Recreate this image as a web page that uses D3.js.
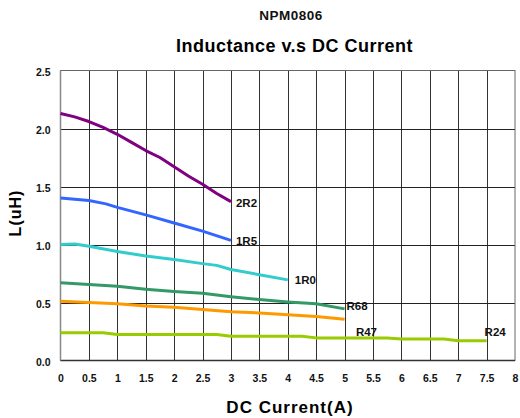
<!DOCTYPE html>
<html>
<head>
<meta charset="utf-8">
<script src="https://cdn.jsdelivr.net/npm/d3@7"></script>
<style>
  html, body { margin: 0; padding: 0; background: #fff; }
  svg { display: block; font-family: "Liberation Sans", Arial, sans-serif; font-weight: bold; }
</style>
</head>
<body>
<svg id="chart" width="520" height="418"></svg>
<script>
// ---- data ----
const seriesNames = ["2R2", "1R5", "1R0", "R68", "R47", "R24"];
const seriesColors = ["#800080", "#3366ff", "#33cccc", "#339966", "#ff9900", "#99cc00"];

const current2R2 = [0, 0.25, 0.5, 0.75, 1, 1.25, 1.5, 1.75, 2, 2.25, 2.5, 2.75, 3];
const induct2R2  = [2.13, 2.10, 2.06, 2.01, 1.95, 1.88, 1.81, 1.75, 1.67, 1.59, 1.52, 1.44, 1.37];

const current1R5 = [0, 0.5, 0.8, 1, 1.5, 2, 2.5, 3];
const induct1R5  = [1.40, 1.38, 1.35, 1.32, 1.255, 1.185, 1.115, 1.035];

const current1R0 = [0, 0.25, 0.5, 1, 1.5, 2, 2.5, 2.75, 3, 3.5, 4];
const induct1R0  = [1.00, 1.005, 0.985, 0.94, 0.90, 0.87, 0.835, 0.82, 0.785, 0.74, 0.695];

const currentR68 = [0, 0.5, 1, 1.5, 2, 2.5, 3, 3.5, 4, 4.5, 5];
const inductR68  = [0.67, 0.655, 0.64, 0.615, 0.595, 0.58, 0.55, 0.525, 0.505, 0.49, 0.445];

const currentR47 = [0, 0.5, 1, 1.5, 2, 2.5, 3, 3.5, 4, 4.5, 5];
const inductR47  = [0.51, 0.50, 0.49, 0.47, 0.46, 0.44, 0.42, 0.41, 0.395, 0.38, 0.355];

const currentR24 = [0, 0.5, 0.75, 1, 2.75, 3, 4.25, 4.5, 5.75, 6, 6.75, 7, 7.5];
const inductR24  = [0.24, 0.24, 0.24, 0.225, 0.225, 0.21, 0.21, 0.195, 0.195, 0.185, 0.185, 0.17, 0.17];

// label anchor points (data units)
const labelCurrent = [3, 3, 4, 5, 5.2, 7.5];
const labelInduct  = [1.37, 1.035, 0.695, 0.445, 0.245, 0.245];

const xTicks = [0, 0.5, 1, 1.5, 2, 2.5, 3, 3.5, 4, 4.5, 5, 5.5, 6, 6.5, 7, 7.5, 8];
const yTicks = [0, 0.5, 1.0, 1.5, 2.0, 2.5];

const titleText = "NPM0806";
const subtitleText = "Inductance v.s DC Current";
const xTitle = "DC Current(A)";
const yTitle = "L(uH)";

// ---- layout ----
const plot = { left: 60.5, right: 515, top: 70.5, bottom: 360.5 };
const svg = d3.select("#chart");

const x = d3.scaleLinear().domain([0, 8]).range([plot.left, plot.right]);
const y = d3.scaleLinear().domain([0, 2.5]).range([plot.bottom, plot.top]);

// grid
const g = svg.append("g");
g.selectAll("line.vg").data(xTicks.slice(1, -1)).enter().append("line")
  .attr("x1", d => Math.round(x(d)) + 0.5).attr("x2", d => Math.round(x(d)) + 0.5)
  .attr("y1", plot.top).attr("y2", plot.bottom)
  .attr("stroke", "#333").attr("stroke-width", 1);
g.selectAll("line.hg").data(yTicks.slice(1, -1)).enter().append("line")
  .attr("x1", plot.left).attr("x2", plot.right)
  .attr("y1", d => Math.round(y(d)) + 0.5).attr("y2", d => Math.round(y(d)) + 0.5)
  .attr("stroke", "#222").attr("stroke-width", 1);

// frame
g.append("rect")
  .attr("x", plot.left).attr("y", plot.top)
  .attr("width", plot.right - plot.left).attr("height", plot.bottom - plot.top)
  .attr("fill", "none").attr("stroke", "#666").attr("stroke-width", 1);
g.append("line").attr("x1", plot.left).attr("x2", plot.right)
  .attr("y1", plot.bottom).attr("y2", plot.bottom).attr("stroke", "#333").attr("stroke-width", 1.5);
g.append("line").attr("x1", plot.left).attr("x2", plot.left)
  .attr("y1", plot.top).attr("y2", plot.bottom).attr("stroke", "#888").attr("stroke-width", 1.5);

// axes (tick labels)
const xAxis = d3.axisBottom(x).tickValues(xTicks).tickSize(0).tickPadding(0)
  .tickFormat(d => String(d));
const xa = svg.append("g").attr("transform", `translate(0,${plot.bottom + 14})`).call(xAxis);
xa.select(".domain").remove();
xa.selectAll("text").attr("font-size", 10.5).attr("font-weight", "bold")
  .attr("font-family", "Liberation Sans, Arial, sans-serif").attr("fill", "#111");

const yAxis = d3.axisLeft(y).tickValues(yTicks).tickSize(0).tickPadding(0)
  .tickFormat(d3.format(".1f"));
const ya = svg.append("g").attr("transform", `translate(${plot.left - 10},2)`).call(yAxis);
ya.select(".domain").remove();
ya.selectAll("text").attr("font-size", 10.5).attr("font-weight", "bold")
  .attr("font-family", "Liberation Sans, Arial, sans-serif").attr("fill", "#111");

// series
const seriesData = [
  [current2R2, induct2R2],
  [current1R5, induct1R5],
  [current1R0, induct1R0],
  [currentR68, inductR68],
  [currentR47, inductR47],
  [currentR24, inductR24]
];
const line = d3.line().x(d => x(d[0])).y(d => y(d[1]));
seriesData.forEach((s, i) => {
  const pts = s[0].map((c, k) => [c, s[1][k]]);
  svg.append("path").datum(pts)
    .attr("d", line)
    .attr("fill", "none")
    .attr("stroke", seriesColors[i])
    .attr("stroke-width", 3)
    .attr("stroke-linejoin", "round");
});

// series labels
const labelDx = [5, 5, 7, 2, 0, -2];
const labelDy = [1, 1, 0, -3, 0, 0];
seriesNames.forEach((n, i) => {
  svg.append("text")
    .attr("x", x(labelCurrent[i]) + labelDx[i])
    .attr("y", y(labelInduct[i]) + labelDy[i])
    .attr("dy", "0.35em")
    .attr("font-size", 11.5)
    .attr("fill", "#111")
    .text(n);
});

// titles
svg.append("text").attr("x", 291).attr("y", 20).attr("text-anchor", "middle")
  .attr("font-size", 13.5).attr("letter-spacing", 0.5).attr("fill", "#111").text(titleText);
svg.append("text").attr("x", 294.5).attr("y", 52).attr("text-anchor", "middle")
  .attr("font-size", 18).attr("letter-spacing", 0.5).attr("fill", "#000").text(subtitleText);
svg.append("text").attr("x", 290).attr("y", 413).attr("text-anchor", "middle")
  .attr("font-size", 17).attr("letter-spacing", 1).attr("fill", "#000").text(xTitle);
svg.append("text").attr("transform", "translate(21,213) rotate(-90)").attr("text-anchor", "middle")
  .attr("font-size", 16).attr("letter-spacing", 1).attr("fill", "#000").text(yTitle);
</script>
</body>
</html>
